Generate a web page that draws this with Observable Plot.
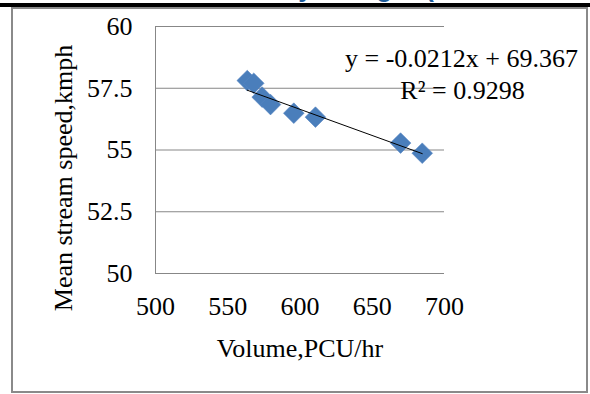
<!DOCTYPE html>
<html><head><meta charset="utf-8">
<script src="https://cdn.jsdelivr.net/npm/d3@7"></script>
<script src="https://cdn.jsdelivr.net/npm/@observablehq/plot@0.6"></script>
<style>
html,body{margin:0;padding:0;background:#fff;}
#wrap{position:relative;width:590px;height:394px;overflow:hidden;background:#fff;}
#head{position:absolute;left:161px;top:-23px;font:bold 26px 'Liberation Sans',Arial,sans-serif;line-height:22px;color:#1F5C99;white-space:nowrap;}
#bar{position:absolute;left:0;top:3px;width:590px;height:4px;background:#000;}
#frame{position:absolute;left:11px;top:7px;width:573px;height:382px;border:2px solid #8a8a8a;}
#chart{position:absolute;left:0;top:0;}
</style>
</head><body>
<div id="wrap">
  <div id="head">Model Fit by Using R (</div>
  <div id="bar"></div>
  <div id="frame"></div>
  <div id="chart"></div>
</div>
<script>
const volume = [563.5, 568, 573.8, 579.6, 595.7, 610.7, 669.6, 684.6];
const speed  = [57.81, 57.70, 57.14, 56.84, 56.49, 56.33, 55.28, 54.87];
const xTicks = [500, 550, 600, 650, 700];
const yTicks = [50, 52.5, 55, 57.5, 60];
const trendCoef = [-0.0212, 69.367]; // slope, intercept
const eqLines = ["y = -0.0212x + 69.367", "R² = 0.9298"];
const xLabel = "Volume,PCU/hr";
const yLabel = "Mean stream speed,kmph";

const points = volume.map((v, i) => ({v, s: speed[i]}));
const xr = d3.extent(volume);
const trend = xr.map(x => ({x, y: trendCoef[0] * x + trendCoef[1]}));

const FF = "'Liberation Serif','Times New Roman',serif";
const FS = 26;
const grey = "#878787";

const chart = Plot.plot({
  width: 590, height: 394,
  marginLeft: 155, marginRight: 146, marginTop: 26, marginBottom: 121,
  style: {fontFamily: FF, fontSize: FS + "px", color: "#000", background: "transparent", overflow: "visible"},
  x: {domain: [500, 700]},
  y: {domain: [50, 60]},
  marks: [
    Plot.gridY(yTicks, {stroke: grey, strokeOpacity: 1, strokeWidth: 1}),
    Plot.ruleX([500], {stroke: grey, strokeWidth: 1}),
    Plot.axisX(xTicks, {tickSize: 0, tickPadding: 23, label: null, fontSize: FS, fontFamily: FF, tickFormat: d => String(d)}),
    Plot.axisY(yTicks, {tickSize: 0, tickPadding: 23, label: null, fontSize: FS, fontFamily: FF, tickFormat: d => String(d)}),
    Plot.dot(points, {x: "v", y: "s", symbol: "diamond2", r: 9.3, fill: "#4A7EBB", stroke: "#5585C2", strokeWidth: 0.6}),
    Plot.line(trend, {x: "x", y: "y", stroke: "#000", strokeWidth: 1}),
    Plot.text([xLabel], {text: d => d, frameAnchor: "bottom", dy: 83, lineAnchor: "bottom", textAnchor: "middle", fontSize: FS, fontFamily: FF, fill: "#000"}),
    Plot.text([yLabel], {text: d => d, frameAnchor: "left", dx: -92, dy: 28, rotate: -90, textAnchor: "middle", lineAnchor: "middle", fontSize: FS, fontFamily: FF, fill: "#000"}),
    Plot.text([eqLines[0]], {text: d => d, frameAnchor: "top-right", dx: 17, dy: 40, lineAnchor: "bottom", textAnchor: "middle", fontSize: FS, fontFamily: FF, fill: "#000"}),
    Plot.text([eqLines[1]], {text: d => d, frameAnchor: "top-right", dx: 18, dy: 72, lineAnchor: "bottom", textAnchor: "middle", fontSize: FS, fontFamily: FF, fill: "#000"})
  ]
});
document.getElementById("chart").appendChild(chart);
</script>
</body></html>
